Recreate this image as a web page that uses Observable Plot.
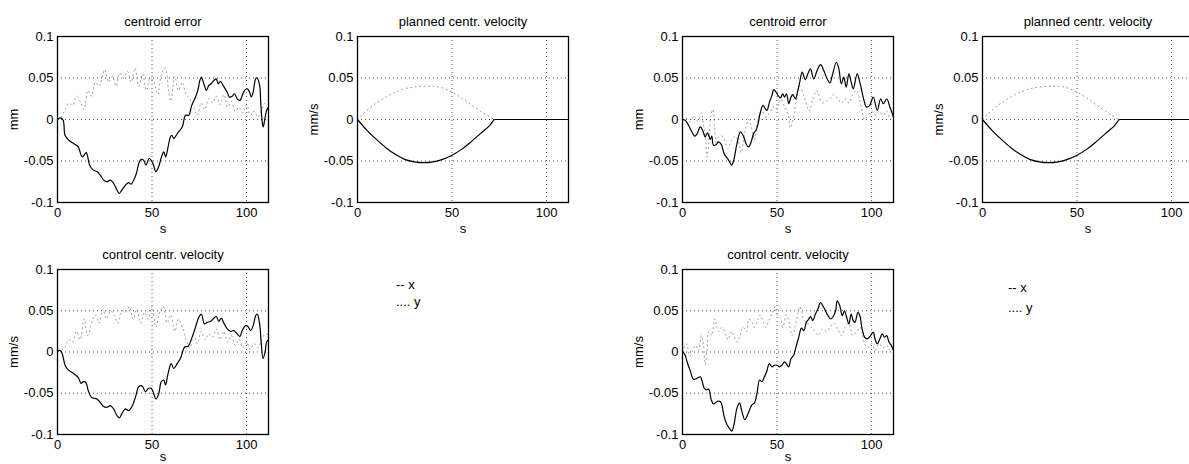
<!DOCTYPE html>
<html>
<head>
<meta charset="utf-8">
<script src="https://cdn.jsdelivr.net/npm/d3@7"></script>
<script src="https://cdn.jsdelivr.net/npm/@observablehq/plot@0.6"></script>
<style>
  html, body { margin: 0; padding: 0; background: #fff; }
  #fig { position: relative; width: 1189px; height: 464px; overflow: hidden; background: #fff;
         font-family: "Liberation Sans", Arial, Helvetica, sans-serif; }
  .panel { position: absolute; }
  .panel svg { max-width: none !important; }
  .leg { position: absolute; font-size: 13px; line-height: 13px; color: #000; white-space: pre; }
</style>
</head>
<body>
<div id="fig"></div>
<script>
// ---------- data (time s, value) ----------
const xTicks = [0, 50, 100];
const yTicks = [-0.1, -0.05, 0, 0.05, 0.1];
const xDomain = [0, 111.6];
const yDomain = [-0.1, 0.1];

// left: centroid error
const ceLeftX = [[0,0],[1.5,0.002],[3,-0.001],[4,-0.019],[6,-0.025],[8.5,-0.029],[11,-0.033],[12.5,-0.043],[13.3,-0.045],[15.2,-0.040],[17,-0.055],[19,-0.061],[21,-0.063],[22.6,-0.067],[24.4,-0.073],[26,-0.075],[28,-0.073],[29.7,-0.077],[31.4,-0.085],[32.7,-0.089],[34,-0.085],[36,-0.079],[37.6,-0.076],[38.9,-0.078],[40.3,-0.073],[41.7,-0.065],[43,-0.053],[44.2,-0.048],[45.5,-0.049],[46.8,-0.055],[48.5,-0.047],[50.5,-0.053],[52,-0.063],[53.5,-0.057],[55,-0.045],[56.2,-0.039],[57.2,-0.045],[58.5,-0.033],[59.7,-0.021],[60.5,-0.019],[61.5,-0.023],[62.8,-0.019],[64,-0.015],[66,-0.009],[67.7,0.005],[69.4,0.005],[71,0.017],[73,0.027],[74.2,0.035],[75.3,0.047],[76.1,0.051],[77.4,0.043],[78.8,0.035],[80,0.041],[81.2,0.043],[82.7,0.047],[84,0.049],[85,0.043],[86.2,0.046],[87.6,0.041],[89.7,0.033],[91,0.027],[92.4,0.028],[93.6,0.031],[95,0.025],[96.5,0.023],[97.7,0.029],[99,0.035],[100.4,0.037],[101.6,0.033],[102.5,0.027],[103.5,0.033],[104.8,0.049],[105.6,0.050],[106.9,0.041],[107.5,0.02],[108.3,-0.003],[108.8,-0.009],[109.7,0.001],[110.6,0.011],[111.6,0.015]];
const ceLeftY = [[0,0],[2,0.003],[4,0.012],[6,0.02],[8,0.017],[10,0.028],[12,0.022],[14,0.012],[16,0.035],[18,0.028],[20,0.045],[22,0.04],[25,0.06],[27,0.045],[29,0.052],[31,0.04],[33,0.056],[35,0.05],[37,0.058],[39,0.045],[41,0.062],[43,0.04],[45,0.055],[47,0.035],[49,0.05],[51,0.045],[53,0.03],[55,0.055],[57,0.062],[59,0.03],[60,0.022],[62,0.052],[64,0.035],[66,0.045],[68,0.03],[70,0.025],[72,0.015],[74,0.005],[76,0.02],[78,0.012],[80,0.025],[82,0.02],[84,0.028],[86,0.018],[88,0.03],[90,0.015],[92,0.022],[94,0.01],[96,0.015],[98,0.008],[100,0.018],[102,0.005],[104,0.01],[106,0.003],[108,0.012],[110,0.02],[111.6,0.018]];

// left: control centr. velocity
const cvLeftX = [[0,0.001],[1.4,0.002],[2.5,-0.002],[4,-0.016],[5.8,-0.022],[8.5,-0.026],[11,-0.031],[12.5,-0.038],[13.6,-0.036],[15,-0.037],[16.3,-0.047],[18,-0.055],[20.8,-0.057],[22.6,-0.061],[24.4,-0.066],[26.1,-0.067],[27.9,-0.065],[29.7,-0.069],[31.4,-0.077],[32.7,-0.080],[34,-0.075],[35.9,-0.069],[37.6,-0.071],[39.4,-0.066],[41.2,-0.055],[43,-0.042],[44.7,-0.041],[46.5,-0.048],[48.2,-0.044],[49.5,-0.044],[50.5,-0.048],[52.1,-0.057],[53.5,-0.051],[54.9,-0.036],[56.2,-0.034],[57.1,-0.040],[58.5,-0.026],[60.1,-0.014],[61.5,-0.020],[63.3,-0.014],[65,-0.008],[67.3,0.006],[69.1,0.007],[71.2,0.018],[73,0.030],[74.7,0.042],[76.1,0.046],[77.7,0.034],[79.2,0.036],[80.9,0.037],[82.7,0.041],[84,0.043],[85.3,0.037],[86.6,0.041],[88,0.035],[89.8,0.028],[91.5,0.025],[93.3,0.026],[95,0.022],[96.5,0.019],[97.7,0.026],[99.5,0.032],[100.7,0.031],[102.1,0.026],[103.5,0.032],[104.8,0.044],[105.7,0.046],[106.9,0.034],[107.8,0.010],[108.7,-0.008],[109.8,0],[110.6,0.012],[111.6,0.015]];
const cvLeftY = [[0,0],[2,0.002],[4,0.006],[6,0.015],[8,0.012],[10,0.025],[12,0.015],[14,0.04],[16,0.02],[18,0.035],[20,0.045],[22,0.035],[24,0.052],[26,0.04],[28,0.05],[30,0.045],[32,0.035],[34,0.05],[36,0.048],[38,0.055],[40,0.04],[42,0.052],[44,0.035],[46,0.048],[48,0.04],[50,0.055],[52,0.03],[54,0.048],[56,0.055],[58,0.035],[60,0.045],[62,0.025],[64,0.04],[66,0.03],[68,0.015],[70,0.005],[72,0.02],[74,0.01],[76,0.025],[78,0.015],[80,0.022],[82,0.018],[84,0.028],[86,0.015],[88,0.025],[90,0.012],[92,0.02],[94,0.008],[96,0.015],[98,0.005],[100,0.012],[102,0.003],[104,0.01],[106,0.005],[108,0.015],[110,0.022],[111.6,0.02]];

// planned centr. velocity (same in both halves)
const pvX = [[0,0],[5,-0.013],[10,-0.024],[15,-0.034],[20,-0.042],[25,-0.048],[30,-0.051],[35,-0.052],[40,-0.051],[45,-0.048],[50,-0.043],[55,-0.036],[60,-0.027],[65,-0.017],[70,-0.007],[72.7,0],[111.6,0]];
const pvY = [[0,0],[5,0.011],[10,0.020],[15,0.027],[20,0.033],[25,0.037],[30,0.039],[35,0.040],[40,0.040],[45,0.038],[50,0.033],[55,0.026],[60,0.018],[65,0.010],[70,0.003],[72.7,0],[111.6,0]];

// right: centroid error
const ceRightX = [[0,0],[1.4,-0.001],[3.2,-0.007],[5,-0.015],[6.4,-0.020],[7.6,-0.018],[9.4,-0.009],[10.8,-0.014],[12,-0.021],[13.2,-0.016],[14.7,-0.024],[15.5,-0.020],[16.4,-0.031],[18,-0.030],[19,-0.027],[20.5,-0.030],[22,-0.041],[24.4,-0.049],[26,-0.055],[27,-0.050],[28.8,-0.029],[30.6,-0.015],[32,-0.019],[34,-0.031],[35,-0.033],[36.3,-0.027],[37.6,-0.017],[38.9,-0.013],[40,-0.005],[41,0.007],[42.6,0.017],[43.8,0.013],[44.7,0.011],[46,0.021],[47.3,0.029],[48.2,0.036],[49.5,0.033],[50.5,0.029],[51.8,0.026],[53,0.031],[54,0.027],[55,0.031],[56.2,0.019],[57.4,0.027],[58.3,0.030],[59.7,0.025],[61,0.035],[62,0.045],[63.3,0.057],[65,0.048],[66.3,0.055],[67.7,0.061],[69.4,0.049],[71.2,0.059],[73,0.066],[74.7,0.059],[76.5,0.049],[78,0.044],[79,0.051],[81.4,0.069],[82.7,0.061],[84,0.043],[85.3,0.051],[86.6,0.039],[88,0.055],[89.2,0.045],[90.3,0.037],[92.4,0.055],[93.8,0.045],[96,0.023],[97.3,0.015],[99,0.017],[100.9,0.027],[103,0.011],[104.8,0.025],[106.2,0.019],[108,0.025],[109.7,0.015],[111.6,0.003]];
const ceRightY = [[0,0],[2,0.002],[4,-0.003],[6,0.004],[8,-0.002],[10,0.008],[11,-0.005],[12,-0.02],[13,-0.045],[14,-0.025],[15,0.005],[16,0.012],[17,-0.01],[18,-0.03],[19,-0.022],[21,-0.02],[23,-0.03],[24,-0.035],[26,-0.025],[28,-0.02],[30,-0.03],[31,-0.04],[33,-0.015],[35,0],[37,-0.015],[38,-0.025],[40,0],[42,0.01],[44,0.003],[46,0.008],[48,0.015],[50,0.012],[52,0.025],[54,0.015],[56,0.005],[57,-0.01],[59,0.005],[60,0.02],[62,0.04],[64,0.03],[66,0.015],[67,0.01],[69,0.025],[71,0.035],[72,0.03],[74,0.02],[76,0.022],[78,0.025],[80,0.03],[82,0.025],[84,0.02],[86,0.025],[88,0.02],[90,0.03],[92,0.035],[93,0.03],[95,0.01],[96,0],[98,0.005],[100,0.01],[102,0.005],[104,0.01],[106,0.005],[108,0.01],[110,0],[111.6,0.005]];

// right: control centr. velocity
const cvRightX = [[0,0.001],[1.4,-0.004],[2.7,-0.014],[4,-0.022],[5.8,-0.033],[7.6,-0.032],[9.4,-0.030],[10.2,-0.034],[11.5,-0.044],[12.5,-0.046],[13.8,-0.045],[15.2,-0.058],[16.4,-0.063],[18.2,-0.060],[20,-0.060],[20.8,-0.064],[22,-0.078],[23.5,-0.088],[25.3,-0.094],[26.1,-0.096],[27.4,-0.086],[28.8,-0.068],[30.2,-0.062],[31.4,-0.072],[32.9,-0.082],[34.1,-0.078],[35.5,-0.070],[36.7,-0.064],[38,-0.062],[39.4,-0.050],[40.8,-0.034],[42,-0.036],[43.3,-0.030],[44.5,-0.024],[45.9,-0.014],[47.3,-0.018],[48.6,-0.016],[50,-0.016],[51.2,-0.018],[52.6,-0.016],[53.9,-0.012],[54.9,-0.014],[56.2,-0.018],[57.4,-0.008],[58.8,-0.004],[60,0.006],[61.5,0.018],[62.9,0.029],[64.2,0.026],[65.5,0.036],[66.8,0.040],[67.7,0.043],[68.9,0.038],[70.3,0.046],[71.6,0.052],[73,0.060],[74.2,0.056],[75.6,0.050],[77,0.044],[78.3,0.040],[79.7,0.043],[81,0.050],[81.8,0.062],[83.2,0.056],[84.5,0.044],[85.7,0.050],[86.7,0.043],[88,0.034],[89.2,0.046],[90.3,0.038],[91.2,0.036],[92.8,0.048],[93.8,0.044],[95,0.028],[96.3,0.018],[97.7,0.016],[99.5,0.020],[100.9,0.024],[101.8,0.016],[103,0.010],[104.4,0.016],[105.7,0.022],[106.9,0.018],[108,0.020],[109.2,0.012],[110.4,0.008],[111.6,0.002]];
const cvRightY = [[0,0],[2,0.01],[4,-0.005],[5.5,0.003],[7,0.008],[8.5,0.002],[10,0.02],[11,0.01],[12,-0.015],[13,0.002],[14,0.025],[15.5,0.02],[17,0.04],[19,0.025],[21,0.03],[23,0.02],[24,0.015],[26,0.025],[27,0.02],[29,0.012],[30.5,0.02],[32,0.03],[34,0.025],[35,0.04],[37,0.035],[38,0.03],[40,0.04],[41,0.045],[43,0.035],[44,0.03],[46,0.04],[48,0.05],[49,0.055],[50,0.045],[52,0.04],[53,0.03],[55,0.045],[56,0.04],[58,0.02],[60,0.035],[62,0.055],[63,0.05],[64,0.04],[66,0.035],[68,0.03],[70,0.025],[72,0.02],[74,0.028],[76,0.025],[78,0.03],[80,0.035],[82,0.028],[84,0.02],[86,0.03],[88,0.035],[90,0.02],[92,0.025],[94,0.03],[95,0.025],[96,0.012],[98,0.005],[100,0.01],[102,0.002],[104,0.01],[106,0.005],[108,0.008],[110,0.002],[111.6,0.004]];

// ---------- panels ----------
const panels = [
  {left: 57,  top: 36,  h: 166, sdy: 26, title: "centroid error",           ylab: "mm",   xs: ceLeftX,  ys: ceLeftY,  curve: "catmull-rom"},
  {left: 357, top: 36,  h: 166, sdy: 26, title: "planned centr. velocity",  ylab: "mm/s", xs: pvX,      ys: pvY,      curve: "monotone-x"},
  {left: 57,  top: 269, h: 165, sdy: 22, title: "control centr. velocity",  ylab: "mm/s", xs: cvLeftX,  ys: cvLeftY,  curve: "catmull-rom"},
  {left: 682, top: 36,  h: 166, sdy: 26, title: "centroid error",           ylab: "mm",   xs: ceRightX, ys: ceRightY, curve: "catmull-rom"},
  {left: 982, top: 36,  h: 166, sdy: 26, title: "planned centr. velocity",  ylab: "mm/s", xs: pvX,      ys: pvY,      curve: "monotone-x"},
  {left: 682, top: 269, h: 165, sdy: 22, title: "control centr. velocity",  ylab: "mm/s", xs: cvRightX, ys: cvRightY, curve: "catmull-rom"}
];

const ML = 57, MT = 36, MR = 12, MB = 40, FW = 211;
const fig = document.getElementById("fig");
const fmt = d => (d === 0 ? "0" : String(d));

for (const p of panels) {
  const W = ML + FW + MR, H = MT + p.h + MB;
  const chart = Plot.plot({
    width: W,
    height: H,
    marginLeft: ML, marginTop: MT, marginRight: MR, marginBottom: MB,
    style: {fontFamily: "'Liberation Sans', Arial, Helvetica, sans-serif", fontSize: "13px", color: "#000", background: "transparent", overflow: "visible"},
    x: {domain: xDomain, ticks: xTicks, tickSize: 0, tickPadding: 5, tickFormat: fmt, label: null},
    y: {domain: yDomain, ticks: yTicks, tickSize: 0, tickPadding: 4, tickFormat: fmt, label: null},
    marks: [
      Plot.gridX([50, 100], {stroke: "#000", strokeOpacity: 0.85, strokeWidth: 0.8, strokeDasharray: "1,3"}),
      Plot.gridY([-0.05, 0, 0.05], {stroke: "#000", strokeOpacity: 0.85, strokeWidth: 0.8, strokeDasharray: "1,3"}),
      Plot.line(p.ys, {x: d => d[0], y: d => d[1], curve: p.curve, stroke: "#555", strokeWidth: 0.9, strokeDasharray: "1,3.5", strokeOpacity: 0.7}),
      Plot.line(p.xs, {x: d => d[0], y: d => d[1], curve: p.curve, stroke: "#000", strokeWidth: 1.2}),
      Plot.frame({stroke: "#000", strokeWidth: 1.3}),
      Plot.text([p.title], {text: d => d, frameAnchor: "top", lineAnchor: "middle", textAnchor: "middle", dy: -15, fontSize: 13}),
      Plot.text([p.ylab], {text: d => d, frameAnchor: "left", lineAnchor: "middle", textAnchor: "middle", dx: -44, rotate: -90, fontSize: 13}),
      Plot.text(["s"], {text: d => d, frameAnchor: "bottom", lineAnchor: "middle", textAnchor: "middle", dy: p.sdy, fontSize: 13})
    ]
  });
  const wrap = document.createElement("div");
  wrap.className = "panel";
  wrap.style.left = (p.left - ML) + "px";
  wrap.style.top = (p.top - MT) + "px";
  wrap.style.width = W + "px";
  wrap.style.height = H + "px";
  wrap.appendChild(chart);
  fig.appendChild(wrap);
}

// legend texts
const legendLines = ["-- x", ".... y"];
const legendPos = [
  {left: 396, tops: [278, 295]},
  {left: 1008, tops: [281, 301]}
];
for (const lp of legendPos) {
  legendLines.forEach((t, i) => {
    const d = document.createElement("div");
    d.className = "leg";
    d.style.left = lp.left + "px";
    d.style.top = lp.tops[i] + "px";
    d.textContent = t;
    fig.appendChild(d);
  });
}
</script>
</body>
</html>
